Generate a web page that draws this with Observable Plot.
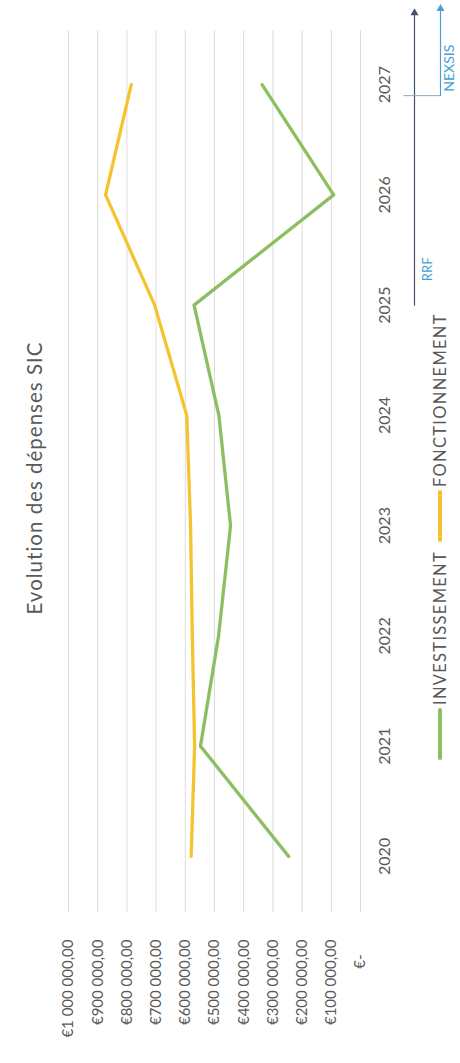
<!DOCTYPE html>
<html><head><meta charset="utf-8">
<script src="https://cdn.jsdelivr.net/npm/d3@7"></script>
<script src="https://cdn.jsdelivr.net/npm/@observablehq/plot@0.6"></script>
<style>
html,body{margin:0;padding:0;background:#fff;overflow:hidden;width:460px;height:1063px;}
#wrap{position:absolute;left:0;top:0;width:1063px;height:460px;transform-origin:0 0;transform:translate(0,1063px) rotate(-90deg);font-family:Lato,"Open Sans",sans-serif;color:#595959;background:#fff;}
#title{box-sizing:border-box;height:50px;padding-top:23px;padding-left:107px;text-align:center;font-size:20.5px;line-height:22px;letter-spacing:1px;white-space:nowrap;margin:0;font-weight:normal;}
#legend{box-sizing:border-box;height:40px;display:flex;align-items:center;padding-left:303px;font-size:16.5px;letter-spacing:1.3px;line-height:22px;white-space:nowrap;}
.item{display:flex;align-items:center;margin-right:9px;}
.sw{width:52px;height:3.5px;margin-right:3px;border-radius:2px;}
#chart svg{display:block;}
</style>
</head><body>
<div id="wrap">
  <div id="title">Evolution des dépenses SIC</div>
  <div id="chart"></div>
  <div id="legend"></div>
</div>
<script>
const years = [2020, 2021, 2022, 2023, 2024, 2025, 2026, 2027];
const investissement = [246000, 548000, 486000, 445000, 485000, 570000, 92000, 337000];
const fonctionnement = [580000, 568000, 576000, 582000, 595000, 705000, 873000, 785000];
const seriesNames = ["INVESTISSEMENT", "FONCTIONNEMENT"];
const seriesColors = ["#8cbf62", "#f4c430"];
const valueTicks = [0, 100000, 200000, 300000, 400000, 500000, 600000, 700000, 800000, 900000, 1000000];
const periodLabels = ["RRF", "NEXSIS"];
const periodStart = [2025, 2026.9];
const periodEnd = [2027.65, 2027.69];

const rows = years.flatMap((year, i) => [
  {year, value: investissement[i], series: seriesNames[0]},
  {year, value: fonctionnement[i], series: seriesNames[1]}
]);
const periods = periodLabels.map((label, i) => ({label, start: periodStart[i], end: periodEnd[i]}));
const rrf = periods.filter(d => d.label === "RRF");
const nexsis = periods.filter(d => d.label === "NEXSIS");

const fmt = d => d === 0 ? "€-\u2002\u2002" : "€" + d3.format(",.2f")(d).replace(/,/g, " ").replace(".", ",");
const vTick = {draw(ctx, size) { const h = Math.sqrt(size / Math.PI); ctx.moveTo(0, -h); ctx.lineTo(0, h); }};
const dark = "#44546a", blue = "#4a9fd5";

const chart = Plot.plot({
  width: 1063,
  height: 370,
  marginLeft: 151,
  marginRight: 30,
  marginTop: 18,
  marginBottom: 60,
  style: {fontFamily: "Lato, 'Open Sans', sans-serif", color: "#595959", background: "transparent", overflow: "visible"},
  x: {type: "linear", domain: [2019.5, 2027.5]},
  y: {domain: [0, 1000000]},
  color: {domain: seriesNames, range: seriesColors},
  marks: [
    Plot.gridY({ticks: valueTicks, stroke: "#dcdcdc", strokeOpacity: 1}),
    Plot.axisX({ticks: years, tickFormat: d => String(d), tickSize: 0, tickPadding: 18, fontSize: 16, label: null}),
    Plot.axisY({ticks: valueTicks, tickFormat: fmt, tickSize: 0, tickPadding: 28, fontSize: 15, label: null}),
    Plot.line(rows, {x: "year", y: "value", z: "series", stroke: "series", strokeWidth: 3.3, strokeLinejoin: "round", strokeLinecap: "round"}),
    // RRF period arrow
    Plot.ruleY(rrf, {x1: "start", x2: "end", y: 0, dy: 54, stroke: dark, strokeWidth: 1.2}),
    Plot.dot(rrf, {x: "end", y: 0, dy: 54, symbol: "triangle", r: 3, rotate: 90, fill: dark, stroke: "none"}),
    Plot.text(rrf, {x: "start", y: 0, text: "label", dx: 24, dy: 67, textAnchor: "start", fill: blue, fontSize: 13}),
    // NEXSIS period arrow
    Plot.dot(nexsis, {x: "start", y: 0, dy: 61.5, symbol: vTick, r: 18.5, stroke: "#8fa9bf", fill: "none", strokeWidth: 1}),
    Plot.ruleY(nexsis, {x1: "start", x2: "end", y: 0, dy: 80, stroke: blue, strokeWidth: 1.2}),
    Plot.dot(nexsis, {x: "end", y: 0, dy: 80, symbol: "triangle", r: 3, rotate: 90, fill: blue, stroke: "none"}),
    Plot.text(nexsis, {x: "start", y: 0, text: "label", dx: 4, dy: 89, textAnchor: "start", fill: blue, fontSize: 14, letterSpacing: "3.5px"})
  ]
});
document.getElementById("chart").appendChild(chart);

const legend = document.getElementById("legend");
seriesNames.forEach((name, i) => {
  const item = document.createElement("div");
  item.className = "item";
  const sw = document.createElement("span");
  sw.className = "sw";
  sw.style.background = seriesColors[i];
  const label = document.createElement("span");
  label.textContent = name;
  item.appendChild(sw);
  item.appendChild(label);
  legend.appendChild(item);
});
</script>
</body></html>
